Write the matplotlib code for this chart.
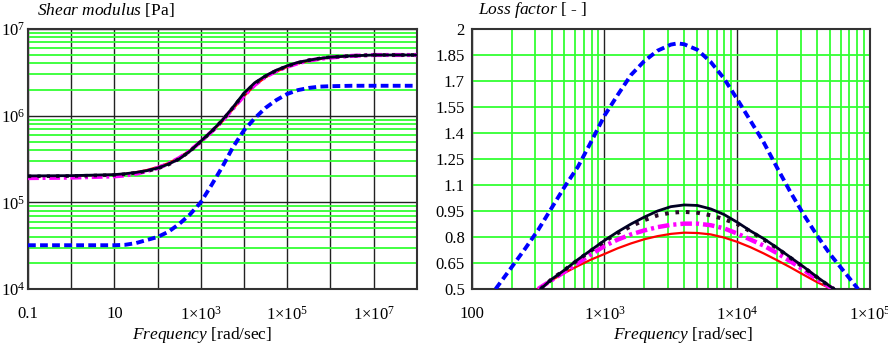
import numpy as np
import matplotlib.pyplot as plt
from matplotlib.ticker import FixedLocator, NullFormatter, LogLocator

plt.rcParams['font.family'] = 'Liberation Serif'
plt.rcParams['mathtext.fontset'] = 'custom'
plt.rcParams['mathtext.rm'] = 'Liberation Serif'
plt.rcParams['mathtext.it'] = 'Liberation Serif:italic'

# shear modulus (log10 of frequency / log10 of modulus)
g_logw = [-1, 0, 1, 1.25, 1.5, 1.75, 2, 2.25, 2.5, 2.75, 3, 3.25, 3.5, 3.75, 4, 4.25, 4.5, 4.75,
          5, 5.25, 5.5, 5.75, 6, 6.5, 7, 8]
g_black = [5.305, 5.308, 5.32, 5.33, 5.345, 5.365, 5.395, 5.44, 5.50, 5.59, 5.705, 5.82, 5.95, 6.10,
           6.26, 6.38, 6.46, 6.525, 6.575, 6.615, 6.64, 6.66, 6.675, 6.69, 6.70, 6.70]
g_dot = [5.30, 5.303, 5.315, 5.325, 5.34, 5.36, 5.39, 5.435, 5.50, 5.59, 5.70, 5.815, 5.945, 6.095,
         6.25, 6.37, 6.455, 6.52, 6.57, 6.61, 6.64, 6.66, 6.675, 6.69, 6.70, 6.70]
g_magenta = [5.28, 5.285, 5.30, 5.31, 5.33, 5.36, 5.395, 5.445, 5.51, 5.595, 5.70, 5.815, 5.94, 6.085,
             6.23, 6.355, 6.45, 6.515, 6.565, 6.605, 6.635, 6.655, 6.67, 6.69, 6.70, 6.70]
g_red = [5.30, 5.305, 5.32, 5.33, 5.35, 5.375, 5.41, 5.455, 5.52, 5.60, 5.70, 5.81, 5.93, 6.075,
         6.22, 6.345, 6.44, 6.505, 6.56, 6.60, 6.63, 6.65, 6.67, 6.69, 6.70, 6.70]
g_blue = [4.505, 4.505, 4.505, 4.51, 4.53, 4.565, 4.60, 4.66, 4.75, 4.86, 5.00, 5.20, 5.41, 5.64,
          5.83, 5.97, 6.09, 6.18, 6.25, 6.295, 6.32, 6.335, 6.34, 6.345, 6.345, 6.345]

# loss factor (log10 of frequency / value)
eta_blue_logw = [2.18, 2.3, 2.4, 2.5, 2.6, 2.7, 2.8, 2.9, 3.0, 3.1, 3.2, 3.3, 3.4, 3.5, 3.55, 3.6,
                 3.7, 3.8, 3.9, 4.0, 4.1, 4.2, 4.3, 4.4, 4.5, 4.6, 4.7, 4.8, 4.91]
eta_blue = [0.50, 0.625, 0.73, 0.84, 0.965, 1.09, 1.205, 1.35, 1.50, 1.62, 1.735, 1.815, 1.875, 1.91,
            1.917, 1.912, 1.88, 1.81, 1.715, 1.595, 1.47, 1.345, 1.20, 1.06, 0.93, 0.81, 0.70, 0.605, 0.50]

eta_black_logw = [2.52, 2.6, 2.7, 2.8, 2.9, 3.0, 3.1, 3.2, 3.3, 3.4, 3.5, 3.6, 3.7, 3.8, 3.9, 4.0,
                  4.1, 4.2, 4.3, 4.4, 4.5, 4.6, 4.7, 4.73]
eta_black = [0.50, 0.555, 0.61, 0.67, 0.725, 0.78, 0.83, 0.875, 0.915, 0.950, 0.975, 0.985, 0.982,
             0.962, 0.93, 0.885, 0.835, 0.79, 0.738, 0.683, 0.628, 0.57, 0.515, 0.50]
eta_dot = [0.50, 0.555, 0.61, 0.668, 0.722, 0.775, 0.822, 0.862, 0.897, 0.925, 0.940, 0.945, 0.94,
           0.925, 0.903, 0.875, 0.832, 0.785, 0.735, 0.68, 0.625, 0.568, 0.512, 0.50]

eta_logw = [2.5, 2.6, 2.7, 2.8, 2.9, 3.0, 3.1, 3.2, 3.3, 3.4, 3.5, 3.6, 3.7, 3.8, 3.9, 4.0, 4.1,
            4.2, 4.3, 4.4, 4.5, 4.6, 4.7, 4.72]
eta_magenta = [0.50, 0.55, 0.60, 0.65, 0.70, 0.748, 0.785, 0.815, 0.838, 0.857, 0.870, 0.877, 0.877,
               0.868, 0.85, 0.82, 0.785, 0.75, 0.707, 0.66, 0.61, 0.558, 0.51, 0.50]
eta_red = [0.50, 0.55, 0.593, 0.633, 0.67, 0.702, 0.735, 0.763, 0.787, 0.805, 0.818, 0.825, 0.823,
           0.815, 0.797, 0.772, 0.741, 0.705, 0.666, 0.625, 0.582, 0.54, 0.504, 0.50]

LIME = '#33ff33'
FRAME = '#333333'
BLUE_LS = (0, (2.0, 1.1))
MAG_LS = (0, (2.6, 0.9, 0.7, 0.9))
DOT_LS = (0, (0.9, 1.7))

fig = plt.figure(figsize=(8.88, 3.44), dpi=100)
ax1 = fig.add_axes([28 / 888, 55 / 344, 388.7 / 888, 260 / 344])
ax2 = fig.add_axes([471.7 / 888, 55 / 344, 398.3 / 888, 260 / 344])

# ---- left: shear modulus
w = 10.0 ** np.array(g_logw)
ax1.plot(w, 10.0 ** np.array(g_red), color='red', lw=1.3, zorder=3)
ax1.plot(w, 10.0 ** np.array(g_magenta), color='magenta', lw=3, ls=MAG_LS, zorder=3)
ax1.plot(w, 10.0 ** np.array(g_dot), color='#2a0a2a', lw=2.6, ls=DOT_LS, zorder=3)
ax1.plot(w, 10.0 ** np.array(g_blue), color='#0000ff', lw=2.8, ls=BLUE_LS, zorder=3)
ax1.plot(w, 10.0 ** np.array(g_black), color='#000022', lw=2, zorder=4)

ax1.set_xscale('log')
ax1.set_yscale('log')
ax1.set_xlim(0.1, 1e8)
ax1.set_ylim(1e4, 1e7)
xt = [10.0 ** k for k in range(-1, 9)]
xl = ['0.1', '', '10', '', r'1$\times$10$^{3}$', '', r'1$\times$10$^{5}$', '', r'1$\times$10$^{7}$', '']
ax1.xaxis.set_major_locator(FixedLocator(xt))
ax1.set_xticklabels(xl)
ax1.xaxis.set_minor_locator(FixedLocator([]))
ax1.yaxis.set_major_locator(FixedLocator([1e4, 1e5, 1e6, 1e7]))
ax1.set_yticklabels([r'10$^{4}$', r'10$^{5}$', r'10$^{6}$', r'10$^{7}$'])
ax1.yaxis.set_minor_locator(LogLocator(base=10, subs=np.arange(2, 10)))
ax1.yaxis.set_minor_formatter(NullFormatter())
ax1.grid(True, which='major', color='#222222', lw=1.0, zorder=1)
ax1.grid(True, which='minor', axis='y', color=LIME, lw=1.3, zorder=0)
ax1.tick_params(which='both', length=0, labelsize=12)
ax1.tick_params(axis='x', pad=12)
ax1.tick_params(axis='y', pad=2)
ax1.set_axisbelow(True)

# ---- right: loss factor
ax2.plot(10.0 ** np.array(eta_logw), eta_red, color='red', lw=1.6, zorder=3)
ax2.plot(10.0 ** np.array(eta_logw), eta_magenta, color='magenta', lw=3.2, ls=MAG_LS, zorder=3)
ax2.plot(10.0 ** np.array(eta_black_logw), eta_dot, color='#2a0a2a', lw=2.9, ls=DOT_LS, zorder=3)
ax2.plot(10.0 ** np.array(eta_blue_logw), eta_blue, color='#0000ff', lw=2.8, ls=BLUE_LS, zorder=3)
ax2.plot(10.0 ** np.array(eta_black_logw), eta_black, color='#000022', lw=2, zorder=4)

ax2.set_xscale('log')
ax2.set_xlim(100, 1e5)
ax2.set_ylim(0.5, 2)
ax2.xaxis.set_major_locator(FixedLocator([1e2, 1e3, 1e4, 1e5]))
ax2.set_xticklabels(['100', r'1$\times$10$^{3}$', r'1$\times$10$^{4}$', r'1$\times$10$^{5}$'])
ax2.xaxis.set_minor_locator(LogLocator(base=10, subs=np.arange(2, 10)))
ax2.xaxis.set_minor_formatter(NullFormatter())
yt = [0.5, 0.65, 0.8, 0.95, 1.1, 1.25, 1.4, 1.55, 1.7, 1.85, 2.0]
ax2.yaxis.set_major_locator(FixedLocator(yt))
ax2.set_yticklabels(['0.5', '0.65', '0.8', '0.95', '1.1', '1.25', '1.4', '1.55', '1.7', '1.85', '2'])
ax2.grid(True, which='major', axis='x', color='#222222', lw=1.0, zorder=1)
ax2.grid(True, which='minor', axis='x', color=LIME, lw=1.3, zorder=0)
ax2.grid(True, which='major', axis='y', color=LIME, lw=1.3, zorder=0)
ax2.tick_params(which='both', length=0, labelsize=12)
ax2.tick_params(axis='x', pad=12)
ax2.tick_params(axis='y', pad=5)
ax2.set_axisbelow(True)

for ax in (ax1, ax2):
    for s in ax.spines.values():
        s.set_color(FRAME)
        s.set_linewidth(1.5)

fig.text(36.7 / 888, 1 - 10 / 344, r'$\mathit{Shear\ modulus}$ [Pa]', fontsize=12.5, va='center', ha='left')
fig.text(478.3 / 888, 1 - 10 / 344, r'$\mathit{Loss\ factor}$ [ - ]', fontsize=12.5, va='center', ha='left')
fig.text(202.5 / 888, 1 - 335 / 344, r'$\mathit{Frequency}$ [rad/sec]', fontsize=12.5, va='center', ha='center')
fig.text(683 / 888, 1 - 335 / 344, r'$\mathit{Frequency}$ [rad/sec]', fontsize=12.5, va='center', ha='center')

fig.savefig('out.png', dpi=100)
